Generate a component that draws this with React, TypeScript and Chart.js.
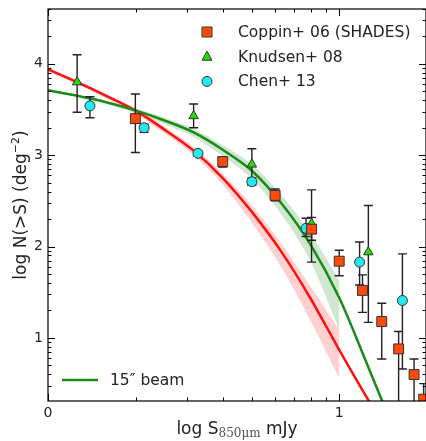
import React, { useEffect, useRef } from "react";
import { Chart, registerables } from "chart.js";
Chart.register(...registerables);

// ---- data ----
const modelX = [0, 0.1, 0.2, 0.3, 0.4, 0.5, 0.6, 0.7, 0.8, 0.9, 1.0, 1.1, 1.2];
const redModel = [3.94, 3.8, 3.65, 3.49, 3.28, 3.05, 2.75, 2.38, 1.95, 1.44, 0.87, 0.32, -0.2];
const greenModel = [3.71, 3.65, 3.58, 3.49, 3.38, 3.25, 3.06, 2.83, 2.48, 2.03, 1.44, 0.68, -0.1];

const bandX = [0, 0.1, 0.2, 0.3, 0.4, 0.5, 0.6, 0.7, 0.8, 0.9, 1.0];
const redUpper = [3.96, 3.82, 3.67, 3.51, 3.31, 3.09, 2.8, 2.45, 2.04, 1.57, 1.09];
const redLower = [3.92, 3.78, 3.62, 3.45, 3.24, 3.0, 2.68, 2.26, 1.78, 1.2, 0.56];
const greenUpper = [3.72, 3.66, 3.59, 3.51, 3.41, 3.29, 3.11, 2.9, 2.57, 2.15, 1.63];
const greenLower = [3.7, 3.64, 3.56, 3.46, 3.34, 3.2, 2.99, 2.74, 2.36, 1.85, 1.09];

const coppinX = [0.3, 0.6, 0.78, 0.905, 1.0, 1.08, 1.146, 1.204, 1.257, 1.29];
const coppinY = [3.4, 2.93, 2.56, 2.19, 1.84, 1.52, 1.18, 0.88, 0.6, 0.33];
const coppinLo = [3.35, 2.87, 2.5, 2.07, 1.68, 1.28, 0.77, 0.0, 0.0, 0.0];
const coppinHi = [3.45, 2.98, 2.63, 2.32, 1.96, 1.69, 1.38, 1.07, 0.77, 0.5];

const knudsenX = [0.1, 0.3, 0.5, 0.7, 0.905, 1.1];
const knudsenY = [3.8, 3.38, 3.43, 2.9, 2.25, 1.94];
const knudsenLo = [3.47, 3.03, 3.3, 2.68, 1.83, 1.17];
const knudsenHi = [4.1, 3.67, 3.56, 3.07, 2.62, 2.45];

const chenX = [0.144, 0.33, 0.515, 0.7, 0.886, 1.07, 1.217];
const chenY = [3.54, 3.3, 3.02, 2.71, 2.2, 1.83, 1.41];
const chenLo = [3.41, 3.25, 2.99, 2.67, 2.11, 1.58, 0.66];
const chenHi = [3.64, 3.34, 3.05, 2.75, 2.31, 2.05, 1.92];

const xTickValues = [0, 1];
const yTickValues = [1, 2, 3, 4];
const seriesLabels = ["Coppin+ 06 (SHADES)", "Knudsen+ 08", "Chen+ 13"];
const beamLabel = "15\u2033 beam";

// ---- style ----
const FONT = "'DejaVu Sans', sans-serif";
const SQ_COLOR = "#ff4a0a";
const TRI_COLOR = "#22dd00";
const CIR_COLOR = "#22e8f0";
const RED = "#ff1010";
const GREEN = "#1a8a1a";

const pts = (xs: number[], ys: number[]) => xs.map((x, i) => ({ x, y: ys[i] }));

function drawMarker(ctx: CanvasRenderingContext2D, kind: string, x: number, y: number) {
  ctx.save();
  ctx.lineWidth = 1;
  ctx.strokeStyle = "#333";
  ctx.beginPath();
  if (kind === "rect") {
    ctx.fillStyle = SQ_COLOR;
    ctx.rect(x - 5, y - 5, 10, 10);
  } else if (kind === "triangle") {
    ctx.fillStyle = TRI_COLOR;
    ctx.moveTo(x, y - 5.5);
    ctx.lineTo(x + 5, y + 3.5);
    ctx.lineTo(x - 5, y + 3.5);
    ctx.closePath();
  } else {
    ctx.fillStyle = CIR_COLOR;
    ctx.arc(x, y, 5, 0, Math.PI * 2);
  }
  ctx.fill();
  ctx.stroke();
  ctx.restore();
}

const decorPlugin = {
  id: "decor",
  beforeDatasetDraw(chart: any, args: any) {
    if (args.index !== 8) return;
    const { ctx, chartArea: a, scales } = chart;
    const xs = scales.x, ys = scales.y;
    ctx.save();
    ctx.beginPath();
    ctx.rect(a.left, a.top, a.right - a.left, a.bottom - a.top);
    ctx.clip();
    ctx.strokeStyle = "#222";
    ctx.lineWidth = 1.4;
    const bars = (X: number[], L: number[], H: number[]) => {
      X.forEach((x, i) => {
        const px = xs.getPixelForValue(x);
        const p1 = ys.getPixelForValue(L[i]);
        const p2 = ys.getPixelForValue(H[i]);
        ctx.beginPath();
        ctx.moveTo(px, p1);
        ctx.lineTo(px, p2);
        ctx.moveTo(px - 4.5, p1);
        ctx.lineTo(px + 4.5, p1);
        ctx.moveTo(px - 4.5, p2);
        ctx.lineTo(px + 4.5, p2);
        ctx.stroke();
      });
    };
    bars(knudsenX, knudsenLo, knudsenHi);
    bars(chenX, chenLo, chenHi);
    bars(coppinX, coppinLo, coppinHi);
    ctx.restore();
  },
  afterDraw(chart: any) {
    const { ctx, chartArea: a, scales } = chart;
    const xs = scales.x, ys = scales.y;
    ctx.save();
    // frame
    ctx.strokeStyle = "#000";
    ctx.lineWidth = 1.2;
    ctx.strokeRect(a.left, a.top, a.right - a.left, a.bottom - a.top);
    ctx.lineWidth = 1;
    // ticks
    const tick = (v: number, len: number, axis: string) => {
      ctx.beginPath();
      if (axis === "x") {
        const p = Math.round(xs.getPixelForValue(v)) + 0.5;
        if (p < a.left || p > a.right) return;
        ctx.moveTo(p, a.bottom);
        ctx.lineTo(p, a.bottom - len);
        ctx.moveTo(p, a.top);
        ctx.lineTo(p, a.top + len);
      } else {
        const p = Math.round(ys.getPixelForValue(v)) + 0.5;
        if (p < a.top || p > a.bottom) return;
        ctx.moveTo(a.left, p);
        ctx.lineTo(a.left + len, p);
        ctx.moveTo(a.right, p);
        ctx.lineTo(a.right - len, p);
      }
      ctx.stroke();
    };
    for (let n = -1; n <= 5; n++) {
      tick(n, 7, "x");
      tick(n, 7, "y");
      for (let k = 2; k <= 9; k++) {
        tick(n + Math.log10(k), 3.5, "x");
        tick(n + Math.log10(k), 3.5, "y");
      }
    }
    // legend (top right)
    const kinds = ["rect", "triangle", "circle"];
    ctx.font = `15.5px ${FONT}`;
    ctx.fillStyle = "#222";
    ctx.textBaseline = "middle";
    ctx.textAlign = "left";
    seriesLabels.forEach((t, i) => {
      const y = 32 + i * 24.7;
      drawMarker(ctx, kinds[i], 207, y);
      ctx.fillStyle = "#222";
      ctx.fillText(t, 238, y + 1);
    });
    // beam legend
    ctx.strokeStyle = GREEN;
    ctx.lineWidth = 2.5;
    ctx.beginPath();
    ctx.moveTo(62, 380);
    ctx.lineTo(98, 380);
    ctx.stroke();
    ctx.fillStyle = "#222";
    ctx.fillText(beamLabel, 110, 381);
    // x title
    const big = `17px ${FONT}`;
    const small = `12px 'DejaVu Serif', serif`;
    const p1 = "log S", p2 = "850\u03bcm", p3 = " mJy";
    ctx.font = big;
    const w1 = ctx.measureText(p1).width, w3 = ctx.measureText(p3).width;
    ctx.font = small;
    const w2 = ctx.measureText(p2).width;
    const tw = w1 + w2 + w3;
    let sx = (a.left + 426) / 2 - tw / 2;
    const by = 434;
    ctx.textBaseline = "alphabetic";
    ctx.font = big;
    ctx.fillText(p1, sx, by);
    ctx.font = small;
    ctx.fillStyle = "#555";
    ctx.fillText(p2, sx + w1, by + 3);
    ctx.fillStyle = "#222";
    ctx.font = big;
    ctx.fillText(p3, sx + w1 + w2, by);
    // y title
    const q1 = "log N(>S) (deg", q2 = "\u22122", q3 = ")";
    const sup = `11px ${FONT}`;
    ctx.font = big;
    const v1 = ctx.measureText(q1).width, v3 = ctx.measureText(q3).width;
    ctx.font = sup;
    const v2 = ctx.measureText(q2).width;
    const vw = v1 + v2 + v3;
    ctx.translate(26, (a.top + a.bottom) / 2);
    ctx.rotate(-Math.PI / 2);
    let tx = -vw / 2;
    ctx.font = big;
    ctx.fillText(q1, tx, 0);
    ctx.font = sup;
    ctx.fillText(q2, tx + v1, -7);
    ctx.font = big;
    ctx.fillText(q3, tx + v1 + v2, 0);
    ctx.restore();
  },
};

export default function App() {
  const ref = useRef<HTMLCanvasElement>(null);
  useEffect(() => {
    document.body.style.margin = "0";
    const canvas = ref.current!;
    const lineDs = (data: any, color: string, order: number) => ({
      type: "line",
      data,
      borderColor: color,
      borderWidth: 2.5,
      pointRadius: 0,
      showLine: true,
      fill: false,
      tension: 0.3,
      order,
    });
    const bandDs = (data: any, fill: any, bg: string, order: number) => ({
      type: "line",
      data,
      borderWidth: 0,
      borderColor: "rgba(0,0,0,0)",
      pointRadius: 0,
      showLine: true,
      fill,
      backgroundColor: bg,
      tension: 0.3,
      order,
    });
    const ptDs = (data: any, style: string, color: string, r: number, order: number) => ({
      type: "scatter",
      data,
      pointStyle: style,
      pointRadius: r,
      backgroundColor: color,
      borderColor: "#333",
      borderWidth: 1,
      order,
    });
    const chart = new Chart(canvas, {
      type: "scatter",
      data: {
        datasets: [
          bandDs(pts(bandX, redUpper), false, "rgba(0,0,0,0)", 8),
          bandDs(pts(bandX, redLower), "-1", "rgba(255,90,90,0.28)", 7),
          bandDs(pts(bandX, greenUpper), false, "rgba(0,0,0,0)", 6),
          bandDs(pts(bandX, greenLower), "-1", "rgba(60,160,60,0.25)", 5),
          lineDs(pts(modelX, redModel), RED, 4),
          lineDs(pts(modelX, greenModel), GREEN, 3),
          ptDs(pts(coppinX, coppinY), "rect", SQ_COLOR, 7, 0),
          ptDs(pts(knudsenX, knudsenY), "triangle", TRI_COLOR, 5.5, 1),
          ptDs(pts(chenX, chenY), "circle", CIR_COLOR, 5, 2),
        ] as any,
      },
      options: {
        animation: false,
        responsive: false,
        maintainAspectRatio: false,
        layout: { autoPadding: false, padding: { top: 9, right: -1, left: 0, bottom: 0 } },
        plugins: { legend: { display: false }, tooltip: { enabled: false } },
        scales: {
          x: {
            type: "linear",
            min: 0,
            max: 1.298,
            grid: { display: false, drawTicks: false },
            border: { display: false },
            afterBuildTicks: (s: any) => {
              s.ticks = xTickValues.map((v) => ({ value: v }));
            },
            afterFit: (s: any) => {
              s.height = 40;
              s.paddingLeft = 0;
              s.paddingRight = 0;
            },
            ticks: {
              font: { family: FONT, size: 14 },
              color: "#222",
              padding: 4,
              maxRotation: 0,
              callback: (v: any) => String(v),
            },
          },
          y: {
            type: "linear",
            min: 0.31,
            max: 4.6,
            grid: { display: false, drawTicks: false },
            border: { display: false },
            afterBuildTicks: (s: any) => {
              s.ticks = yTickValues.map((v) => ({ value: v }));
            },
            afterFit: (s: any) => {
              s.width = 48;
              s.paddingTop = 0;
              s.paddingBottom = 0;
            },
            ticks: {
              font: { family: FONT, size: 14 },
              color: "#222",
              padding: 5,
              callback: (v: any) => String(v),
            },
          },
        },
      } as any,
      plugins: [decorPlugin as any],
    });
    return () => chart.destroy();
  }, []);
  return <canvas ref={ref} width={426} height={441} style={{ display: "block" }} />;
}
